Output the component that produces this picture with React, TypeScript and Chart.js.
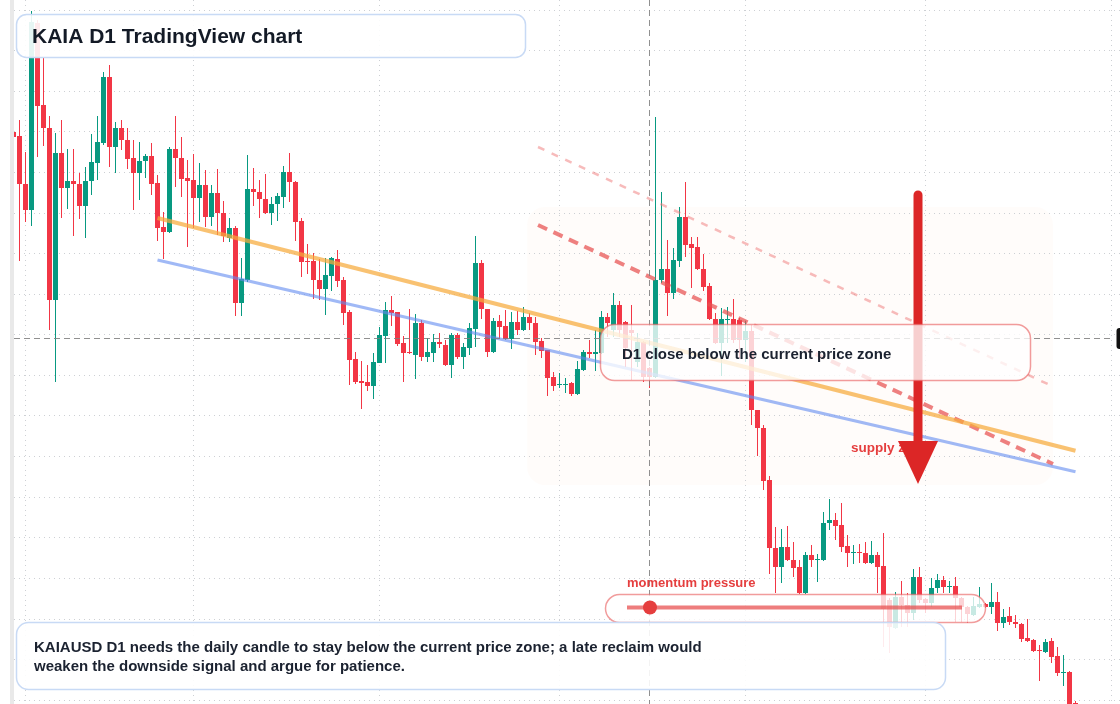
import React, { useEffect, useRef } from 'react';
import { Chart, registerables } from 'chart.js';

Chart.register(...registerables);

// KAIAUSD daily candles; day 0 = 2025-01-30
const START_DATE = '2025-01-30';
const OPEN = [
  0.1868,0.1864,0.1816,0.1790,0.1977,0.1895,0.1872,0.1700,0.1847,0.1812,
  0.1819,0.1816,0.1794,0.1819,0.1837,0.1857,0.1923,0.1853,0.1872,0.1860,
  0.1842,0.1827,0.1839,0.1844,0.1817,0.1773,0.1768,0.1851,0.1842,0.1822,
  0.1820,0.1802,0.1815,0.1783,0.1807,0.1787,0.1762,0.1772,0.1697,0.1720,
  0.1811,0.1808,0.1801,0.1787,0.1796,0.1803,0.1828,0.1818,0.1779,0.1739,
  0.1739,0.1720,0.1711,0.1724,0.1741,0.1720,0.1688,0.1641,0.1619,0.1618,
  0.1614,0.1637,0.1664,0.1690,0.1688,0.1657,0.1648,0.1645,0.1677,0.1643,
  0.1647,0.1658,0.1655,0.1635,0.1665,0.1643,0.1652,0.1671,0.1737,0.1691,
  0.1648,0.1679,0.1674,0.1661,0.1678,0.1670,0.1683,0.1677,0.1659,0.1650,
  0.1623,0.1615,0.1615,0.1617,0.1606,0.1630,0.1648,0.1646,0.1647,0.1683,
  0.1670,0.1695,0.1678,0.1670,0.1638,0.1658,0.1632,0.1623,0.1720,0.1731,
  0.1707,0.1739,0.1783,0.1756,0.1753,0.1731,0.1714,0.1681,0.1657,0.1680,
  0.1681,0.1680,0.1660,0.1669,0.1590,0.1572,0.1520,0.1452,0.1433,0.1453,
  0.1440,0.1433,0.1407,0.1445,0.1440,0.1440,0.1477,0.1480,0.1475,0.1454,
  0.1447,0.1448,0.1447,0.1437,0.1445,0.1434,0.1400,0.1372,0.1403,0.1395,
  0.1387,0.1423,0.1401,0.1397,0.1412,0.1420,0.1413,0.1414,0.1402,0.1393,
  0.1385,0.1393,0.1396,0.1393,0.1398,0.1377,0.1384,0.1378,0.1376,0.1362,
  0.1360,0.1350,0.1348,0.1359,0.1344,0.1327,0.1328,0.1297,
];
const HIGH = [
  0.1870,0.1880,0.1848,0.1989,0.1980,0.1942,0.1884,0.1867,0.1880,0.1851,
  0.1851,0.1827,0.1833,0.1866,0.1884,0.1928,0.1935,0.1878,0.1880,0.1872,
  0.1860,0.1858,0.1846,0.1857,0.1825,0.1788,0.1853,0.1884,0.1863,0.1840,
  0.1846,0.1837,0.1830,0.1815,0.1831,0.1799,0.1782,0.1774,0.1742,0.1845,
  0.1832,0.1820,0.1826,0.1803,0.1807,0.1834,0.1847,0.1819,0.1782,0.1756,
  0.1747,0.1741,0.1742,0.1743,0.1750,0.1723,0.1690,0.1648,0.1639,0.1635,
  0.1647,0.1673,0.1698,0.1704,0.1688,0.1664,0.1691,0.1686,0.1680,0.1662,
  0.1666,0.1667,0.1660,0.1667,0.1667,0.1657,0.1677,0.1764,0.1740,0.1691,
  0.1682,0.1685,0.1690,0.1688,0.1689,0.1693,0.1687,0.1683,0.1662,0.1650,
  0.1628,0.1627,0.1622,0.1618,0.1639,0.1650,0.1660,0.1670,0.1689,0.1687,
  0.1707,0.1699,0.1679,0.1695,0.1667,0.1659,0.1633,0.1883,0.1808,0.1760,
  0.1752,0.1793,0.1818,0.1763,0.1763,0.1746,0.1717,0.1687,0.1692,0.1693,
  0.1701,0.1682,0.1679,0.1675,0.1590,0.1575,0.1524,0.1473,0.1471,0.1474,
  0.1458,0.1440,0.1448,0.1455,0.1446,0.1488,0.1501,0.1487,0.1497,0.1465,
  0.1455,0.1456,0.1458,0.1459,0.1448,0.1467,0.1402,0.1408,0.1419,0.1407,
  0.1431,0.1433,0.1402,0.1422,0.1426,0.1424,0.1419,0.1423,0.1403,0.1394,
  0.1403,0.1413,0.1397,0.1417,0.1408,0.1391,0.1393,0.1385,0.1377,0.1381,
  0.1361,0.1355,0.1361,0.1362,0.1353,0.1345,0.1329,0.1299,
];
const LOW = [
  0.1861,0.1739,0.1778,0.1774,0.1843,0.1854,0.1670,0.1618,0.1782,0.1791,
  0.1764,0.1781,0.1762,0.1805,0.1820,0.1855,0.1833,0.1827,0.1850,0.1831,
  0.1790,0.1800,0.1822,0.1805,0.1759,0.1741,0.1767,0.1813,0.1803,0.1753,
  0.1772,0.1778,0.1773,0.1774,0.1765,0.1758,0.1758,0.1684,0.1684,0.1718,
  0.1794,0.1782,0.1786,0.1775,0.1779,0.1792,0.1798,0.1759,0.1723,0.1726,
  0.1701,0.1700,0.1685,0.1709,0.1713,0.1675,0.1615,0.1616,0.1591,0.1609,
  0.1601,0.1637,0.1637,0.1674,0.1654,0.1618,0.1646,0.1621,0.1639,0.1638,
  0.1638,0.1652,0.1634,0.1622,0.1641,0.1631,0.1645,0.1653,0.1681,0.1643,
  0.1647,0.1661,0.1660,0.1651,0.1665,0.1669,0.1670,0.1645,0.1642,0.1604,
  0.1609,0.1612,0.1607,0.1604,0.1605,0.1629,0.1642,0.1629,0.1646,0.1663,
  0.1663,0.1663,0.1633,0.1620,0.1633,0.1618,0.1612,0.1622,0.1717,0.1684,
  0.1701,0.1733,0.1743,0.1712,0.1730,0.1709,0.1680,0.1656,0.1624,0.1657,
  0.1657,0.1642,0.1638,0.1575,0.1544,0.1510,0.1426,0.1407,0.1417,0.1439,
  0.1423,0.1406,0.1406,0.1433,0.1418,0.1439,0.1470,0.1460,0.1448,0.1433,
  0.1436,0.1437,0.1436,0.1436,0.1407,0.1353,0.1347,0.1371,0.1373,0.1373,
  0.1380,0.1397,0.1387,0.1393,0.1407,0.1407,0.1407,0.1378,0.1378,0.1377,
  0.1384,0.1392,0.1392,0.1386,0.1369,0.1372,0.1375,0.1372,0.1358,0.1358,
  0.1348,0.1319,0.1347,0.1337,0.1324,0.1314,0.1250,0.1275,
];
const CLOSE = [
  0.1863,0.1816,0.1790,0.1978,0.1894,0.1872,0.1700,0.1847,0.1812,0.1819,
  0.1816,0.1794,0.1819,0.1838,0.1858,0.1923,0.1853,0.1872,0.1860,0.1841,
  0.1827,0.1839,0.1844,0.1816,0.1772,0.1768,0.1851,0.1842,0.1821,0.1819,
  0.1802,0.1815,0.1783,0.1807,0.1787,0.1764,0.1772,0.1697,0.1721,0.1811,
  0.1808,0.1801,0.1787,0.1796,0.1804,0.1828,0.1818,0.1778,0.1738,0.1738,
  0.1720,0.1711,0.1725,0.1742,0.1719,0.1687,0.1640,0.1618,0.1617,0.1614,
  0.1638,0.1665,0.1690,0.1687,0.1656,0.1647,0.1647,0.1677,0.1643,0.1648,
  0.1658,0.1656,0.1635,0.1665,0.1643,0.1653,0.1672,0.1737,0.1691,0.1648,
  0.1679,0.1673,0.1661,0.1678,0.1670,0.1683,0.1677,0.1658,0.1649,0.1622,
  0.1614,0.1616,0.1616,0.1606,0.1631,0.1648,0.1646,0.1648,0.1683,0.1677,
  0.1695,0.1670,0.1652,0.1667,0.1658,0.1623,0.1623,0.1720,0.1731,0.1707,
  0.1740,0.1783,0.1755,0.1752,0.1731,0.1713,0.1681,0.1657,0.1681,0.1681,
  0.1660,0.1660,0.1669,0.1590,0.1572,0.1519,0.1452,0.1433,0.1453,0.1440,
  0.1432,0.1407,0.1445,0.1440,0.1441,0.1477,0.1480,0.1474,0.1453,0.1447,
  0.1448,0.1447,0.1437,0.1445,0.1433,0.1391,0.1373,0.1403,0.1395,0.1387,
  0.1423,0.1400,0.1397,0.1412,0.1420,0.1413,0.1414,0.1402,0.1393,0.1386,
  0.1394,0.1396,0.1393,0.1398,0.1377,0.1383,0.1378,0.1376,0.1361,0.1359,
  0.1349,0.1349,0.1358,0.1343,0.1327,0.1328,0.1260,0.1285,
];

// month boundaries (day offsets) used for vertical grid
const MONTH_STARTS = [2, 30, 61, 91, 122, 152, 183];
const MONTH_LABELS = ['Feb', 'Mar', 'Apr', 'May', 'Jun', 'Jul', 'Aug'];
// horizontal price grid
const PRICE_GRID = [
  0.19905, 0.19499, 0.19093, 0.18687, 0.18281, 0.17875, 0.17469, 0.17063, 0.16657,
  0.16251, 0.15845, 0.15439, 0.15033, 0.14627, 0.14221, 0.13815, 0.13409, 0.13003,
];
const PRICE_MIN = 0.1296;
const PRICE_MAX = 0.2;
const CURRENT_PRICE = 0.1662;
const CROSSHAIR_DAY = 106;

const TREND_ORANGE = [{ x: 24, y: 0.1782 }, { x: 177, y: 0.15493 }];
const TREND_BLUE = [{ x: 24, y: 0.174 }, { x: 177, y: 0.15283 }];
const CHANNEL_MAIN = [{ x: 87.42, y: 0.1775 }, { x: 173.25, y: 0.1536 }];
const CHANNEL_UPPER = [{ x: 87.42, y: 0.1853 }, { x: 173.08, y: 0.1614 }];
const SUPPLY_ZONE = { x0: 85.6, x1: 173.25, top: 0.1793, bottom: 0.1515 };
const ARROW = { x: 150.75, from: 0.1805, headStart: 0.1559, to: 0.1516 };

const UP = '#089981';
const DOWN = '#F23645';
const FONT = '"Liberation Sans", Arial, Helvetica, sans-serif';

function rr(ctx: CanvasRenderingContext2D, x: number, y: number, w: number, h: number, r: number) {
  ctx.beginPath();
  ctx.moveTo(x + r, y);
  ctx.arcTo(x + w, y, x + w, y + h, r);
  ctx.arcTo(x + w, y + h, x, y + h, r);
  ctx.arcTo(x, y + h, x, y, r);
  ctx.arcTo(x, y, x + w, y, r);
  ctx.closePath();
}

const overlay = {
  id: 'overlay',
  beforeDatasetsDraw(chart: any) {
    const { ctx, scales } = chart;
    const xs = scales.x;
    const ys = scales.y;
    ctx.save();
    // supply zone
    const zx0 = xs.getPixelForValue(SUPPLY_ZONE.x0);
    const zx1 = xs.getPixelForValue(SUPPLY_ZONE.x1);
    const zy0 = ys.getPixelForValue(SUPPLY_ZONE.top);
    const zy1 = ys.getPixelForValue(SUPPLY_ZONE.bottom);
    rr(ctx, zx0, zy0, zx1 - zx0, zy1 - zy0, 18);
    ctx.fillStyle = 'rgba(253,232,215,0.13)';
    ctx.fill();
    // grid
    ctx.strokeStyle = '#cdd0d4';
    ctx.lineWidth = 1;
    ctx.setLineDash([1, 4]);
    PRICE_GRID.forEach((p) => {
      const y = Math.round(ys.getPixelForValue(p)) + 0.5;
      ctx.beginPath();
      ctx.moveTo(14, y);
      ctx.lineTo(1120, y);
      ctx.stroke();
    });
    MONTH_STARTS.forEach((d) => {
      const x = Math.floor(xs.getPixelForValue(d)) + 0.5;
      ctx.beginPath();
      ctx.moveTo(x, 0);
      ctx.lineTo(x, 704);
      ctx.stroke();
    });
    ctx.restore();
  },
  afterDatasetsDraw(chart: any) {
    const { ctx, scales } = chart;
    const xs = scales.x;
    const ys = scales.y;
    ctx.save();
    // crosshair
    ctx.strokeStyle = 'rgba(125,125,125,0.85)';
    ctx.lineWidth = 1;
    ctx.setLineDash([6, 4]);
    const cy = Math.round(ys.getPixelForValue(CURRENT_PRICE)) + 0.5;
    ctx.beginPath();
    ctx.moveTo(14, cy);
    ctx.lineTo(1114, cy);
    ctx.stroke();
    const cx = Math.floor(xs.getPixelForValue(CROSSHAIR_DAY)) + 0.5;
    ctx.beginPath();
    ctx.moveTo(cx, 0);
    ctx.lineTo(cx, 704);
    ctx.stroke();
    ctx.setLineDash([]);

    // supply zone label
    ctx.fillStyle = '#e53e3e';
    ctx.font = `bold 13.5px ${FONT}`;
    ctx.textBaseline = 'middle';
    ctx.fillText('supply zone', 851, 448);

    // arrow
    const ax = xs.getPixelForValue(ARROW.x);
    const ay0 = ys.getPixelForValue(ARROW.from);
    const ayh = ys.getPixelForValue(ARROW.headStart);
    const ay1 = ys.getPixelForValue(ARROW.to);
    ctx.strokeStyle = '#dc2626';
    ctx.lineWidth = 9;
    ctx.lineCap = 'round';
    ctx.beginPath();
    ctx.moveTo(ax, ay0);
    ctx.lineTo(ax, ayh + 4);
    ctx.stroke();
    ctx.lineCap = 'butt';
    ctx.fillStyle = '#dc2626';
    ctx.beginPath();
    ctx.moveTo(ax - 20, ayh);
    ctx.lineTo(ax + 20, ayh);
    ctx.lineTo(ax, ay1);
    ctx.closePath();
    ctx.fill();

    // price zone box
    rr(ctx, 600.5, 324.5, 430, 56, 14);
    ctx.fillStyle = 'rgba(255,255,255,0.78)';
    ctx.fill();
    ctx.strokeStyle = 'rgba(232,90,90,0.6)';
    ctx.lineWidth = 1.5;
    ctx.stroke();
    ctx.fillStyle = '#1b2230';
    ctx.font = `bold 15px ${FONT}`;
    ctx.textBaseline = 'alphabetic';
    ctx.fillText('D1 close below the current price zone', 622, 359);

    // momentum pressure
    ctx.fillStyle = '#e53e3e';
    ctx.font = `bold 13px ${FONT}`;
    ctx.fillText('momentum pressure', 627, 587);
    rr(ctx, 605.5, 594.5, 380, 28, 14);
    ctx.fillStyle = 'rgba(255,255,255,0.78)';
    ctx.fill();
    ctx.strokeStyle = 'rgba(232,90,90,0.6)';
    ctx.lineWidth = 1.5;
    ctx.stroke();
    ctx.strokeStyle = 'rgba(232,82,82,0.75)';
    ctx.lineWidth = 4;
    ctx.beginPath();
    ctx.moveTo(627, 607.5);
    ctx.lineTo(962, 607.5);
    ctx.stroke();
    ctx.fillStyle = '#e53e3e';
    ctx.beginPath();
    ctx.arc(650, 607.5, 7, 0, Math.PI * 2);
    ctx.fill();

    // title box
    rr(ctx, 16.5, 14.5, 509, 43, 10);
    ctx.fillStyle = 'rgba(255,255,255,0.9)';
    ctx.fill();
    ctx.strokeStyle = 'rgba(200,218,245,1)';
    ctx.lineWidth = 1.5;
    ctx.stroke();
    ctx.fillStyle = '#131a26';
    ctx.font = `bold 21px ${FONT}`;
    ctx.fillText('KAIA D1 TradingView chart', 32, 43);

    // bottom note
    rr(ctx, 16.5, 622.5, 929, 67, 12);
    ctx.fillStyle = 'rgba(255,255,255,0.9)';
    ctx.fill();
    ctx.strokeStyle = 'rgba(200,218,245,1)';
    ctx.lineWidth = 1.5;
    ctx.stroke();
    ctx.fillStyle = '#1b2230';
    ctx.font = `bold 15px ${FONT}`;
    ctx.textBaseline = 'middle';
    ctx.fillText('KAIAUSD D1 needs the daily candle to stay below the current price zone; a late reclaim would', 34, 648);
    ctx.fillText('weaken the downside signal and argue for patience.', 34, 667);

    // left edge + right price tag
    ctx.fillStyle = '#ffffff';
    ctx.fillRect(0, 0, 10, 704);
    ctx.fillStyle = '#e9e9e9';
    ctx.fillRect(10, 0, 4, 704);
    rr(ctx, 1116.5, cy - 10.5, 30, 21, 3);
    ctx.fillStyle = '#111111';
    ctx.fill();
    ctx.restore();
  },
};

export default function App() {
  const ref = useRef<HTMLCanvasElement>(null);
  useEffect(() => {
    document.body.style.margin = '0';
    const days = OPEN.map((_, i) => i);
    const colors = days.map((i) => (CLOSE[i] >= OPEN[i] ? UP : DOWN));
    const bodies = days.map((i) => ({ x: i, y: [Math.min(OPEN[i], CLOSE[i]), Math.max(OPEN[i], CLOSE[i])] }));
    const wicks = days.map((i) => ({ x: i, y: [LOW[i], HIGH[i]] }));
    const xMin = -2.25;
    const xMax = xMin + 1120 / 6;
    const lineDs = (data: any[], color: string, width: number, dash: number[]) => ({
      type: 'line',
      data,
      borderColor: color,
      borderWidth: width,
      borderDash: dash,
      pointRadius: 0,
      fill: false,
      tension: 0,
      order: 0,
    });
    const chart = new Chart(ref.current as HTMLCanvasElement, {
      type: 'bar',
      data: {
        datasets: [
          lineDs(TREND_ORANGE, 'rgba(247,170,60,0.72)', 4, []),
          lineDs(TREND_BLUE, 'rgba(96,138,240,0.6)', 3.2, []),
          lineDs(CHANNEL_MAIN, 'rgba(232,80,80,0.72)', 4, [10, 7]),
          lineDs(CHANNEL_UPPER, 'rgba(240,120,120,0.5)', 2.5, [7, 8]),
          {
            type: 'bar',
            label: `KAIAUSD bodies from ${START_DATE}`,
            data: bodies,
            backgroundColor: colors,
            borderWidth: 0,
            barThickness: 5,
            grouped: false,
            inflateAmount: 0,
            order: 1,
          },
          {
            type: 'bar',
            label: 'wicks',
            data: wicks,
            backgroundColor: colors,
            borderWidth: 0,
            barThickness: 1,
            grouped: false,
            inflateAmount: 0,
            order: 2,
          },
        ] as any,
      },
      options: {
        animation: false,
        responsive: false,
        devicePixelRatio: 1,
        events: [],
        layout: { padding: 0 },
        plugins: { legend: { display: false }, tooltip: { enabled: false }, title: { display: false } },
        scales: {
          x: { type: 'linear', min: xMin, max: xMax, display: false, offset: false, ticks: { callback: (v: any) => MONTH_LABELS[MONTH_STARTS.indexOf(v)] || '' } },
          y: { type: 'linear', min: PRICE_MIN, max: PRICE_MAX, display: false, beginAtZero: false },
        },
      } as any,
      plugins: [overlay],
    });
    return () => chart.destroy();
  }, []);
  return (
    <div style={{ position: 'absolute', left: 0, top: 0, width: 1120, height: 704, background: '#fff' }}>
      <canvas ref={ref} width={1120} height={704} style={{ display: 'block', width: 1120, height: 704 }} />
    </div>
  );
}
